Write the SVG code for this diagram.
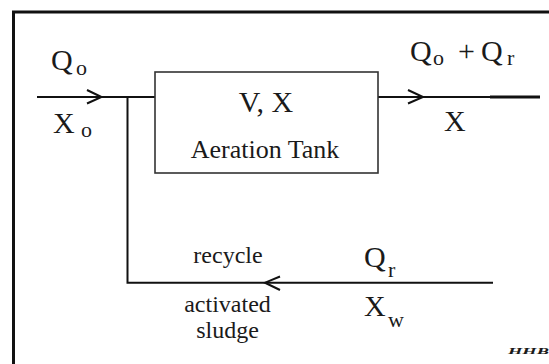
<svg xmlns="http://www.w3.org/2000/svg" width="549" height="364" viewBox="0 0 549 364">
<style>
.ln{stroke:#111;stroke-width:2;fill:none}
.ah{stroke:#111;stroke-width:2;fill:none;stroke-linejoin:miter}
text{font-family:'Liberation Serif','Times New Roman','DejaVu Serif',serif;fill:#1a1a1a}
.v{font-size:30px}
.s{font-size:22px}
.w{font-size:24px}
</style>
<rect width="549" height="364" fill="#fff"/>
<g id="frame">
<polyline points="13.5,364 13.5,12 549,12" fill="none" stroke="#111" stroke-width="3"/>
</g>
<g id="connectors">
<line class="ln" x1="37" y1="97" x2="155" y2="97"/>
<polyline class="ah" points="87,90 101.5,97 87,103.5"/>
<line class="ln" x1="378" y1="97" x2="540" y2="97"/>
<line x1="490" y1="97" x2="540" y2="97" stroke="#111" stroke-width="2.8"/>
<polyline class="ah" points="408,90 423,97 408,103.5"/>
<polyline class="ln" points="127.5,97 127.5,282.7 493,282.7"/>
<polyline class="ah" points="280,276.5 265,282.7 280,290"/>
</g>
<g id="tank" font-family="Liberation Serif, serif">
<rect x="155" y="72" width="223" height="101" fill="#fff" stroke="#333" stroke-width="1.6"/>
<text class="v" x="266" y="112" text-anchor="middle">V, X</text>
<text x="265" y="158" font-size="26" text-anchor="middle">Aeration Tank</text>
</g>
<g id="inlet-labels" font-family="Liberation Serif, serif">
<text class="v" x="51" y="70">Q</text>
<text class="s" x="76" y="75">o</text>
<text class="v" x="53" y="133">X</text>
<text class="s" x="81" y="137">o</text>
</g>
<g id="outlet-labels" font-family="Liberation Serif, serif">
<text class="v" x="410" y="61">Q</text>
<text class="s" x="433" y="65">o</text>
<text class="v" x="466.5" y="61" text-anchor="middle">+</text>
<text class="v" x="481" y="61">Q</text>
<text class="s" x="507" y="65">r</text>
<text class="v" x="444" y="131">X</text>
</g>
<g id="recycle-labels" font-family="Liberation Serif, serif">
<text x="228" y="263" font-size="24" text-anchor="middle">recycle</text>
<text class="w" x="227.5" y="312" text-anchor="middle">activated</text>
<text class="w" x="227.5" y="338" text-anchor="middle">sludge</text>
<text class="v" x="364" y="267">Q</text>
<text class="s" x="388" y="277">r</text>
<text class="v" x="364" y="316">X</text>
<text class="s" x="388" y="327">w</text>
</g>
<g id="watermark">
<text x="508" y="354" font-size="9" font-weight="bold" font-style="italic" fill="#222" textLength="41" lengthAdjust="spacingAndGlyphs">HHB</text>
</g>
</svg>
